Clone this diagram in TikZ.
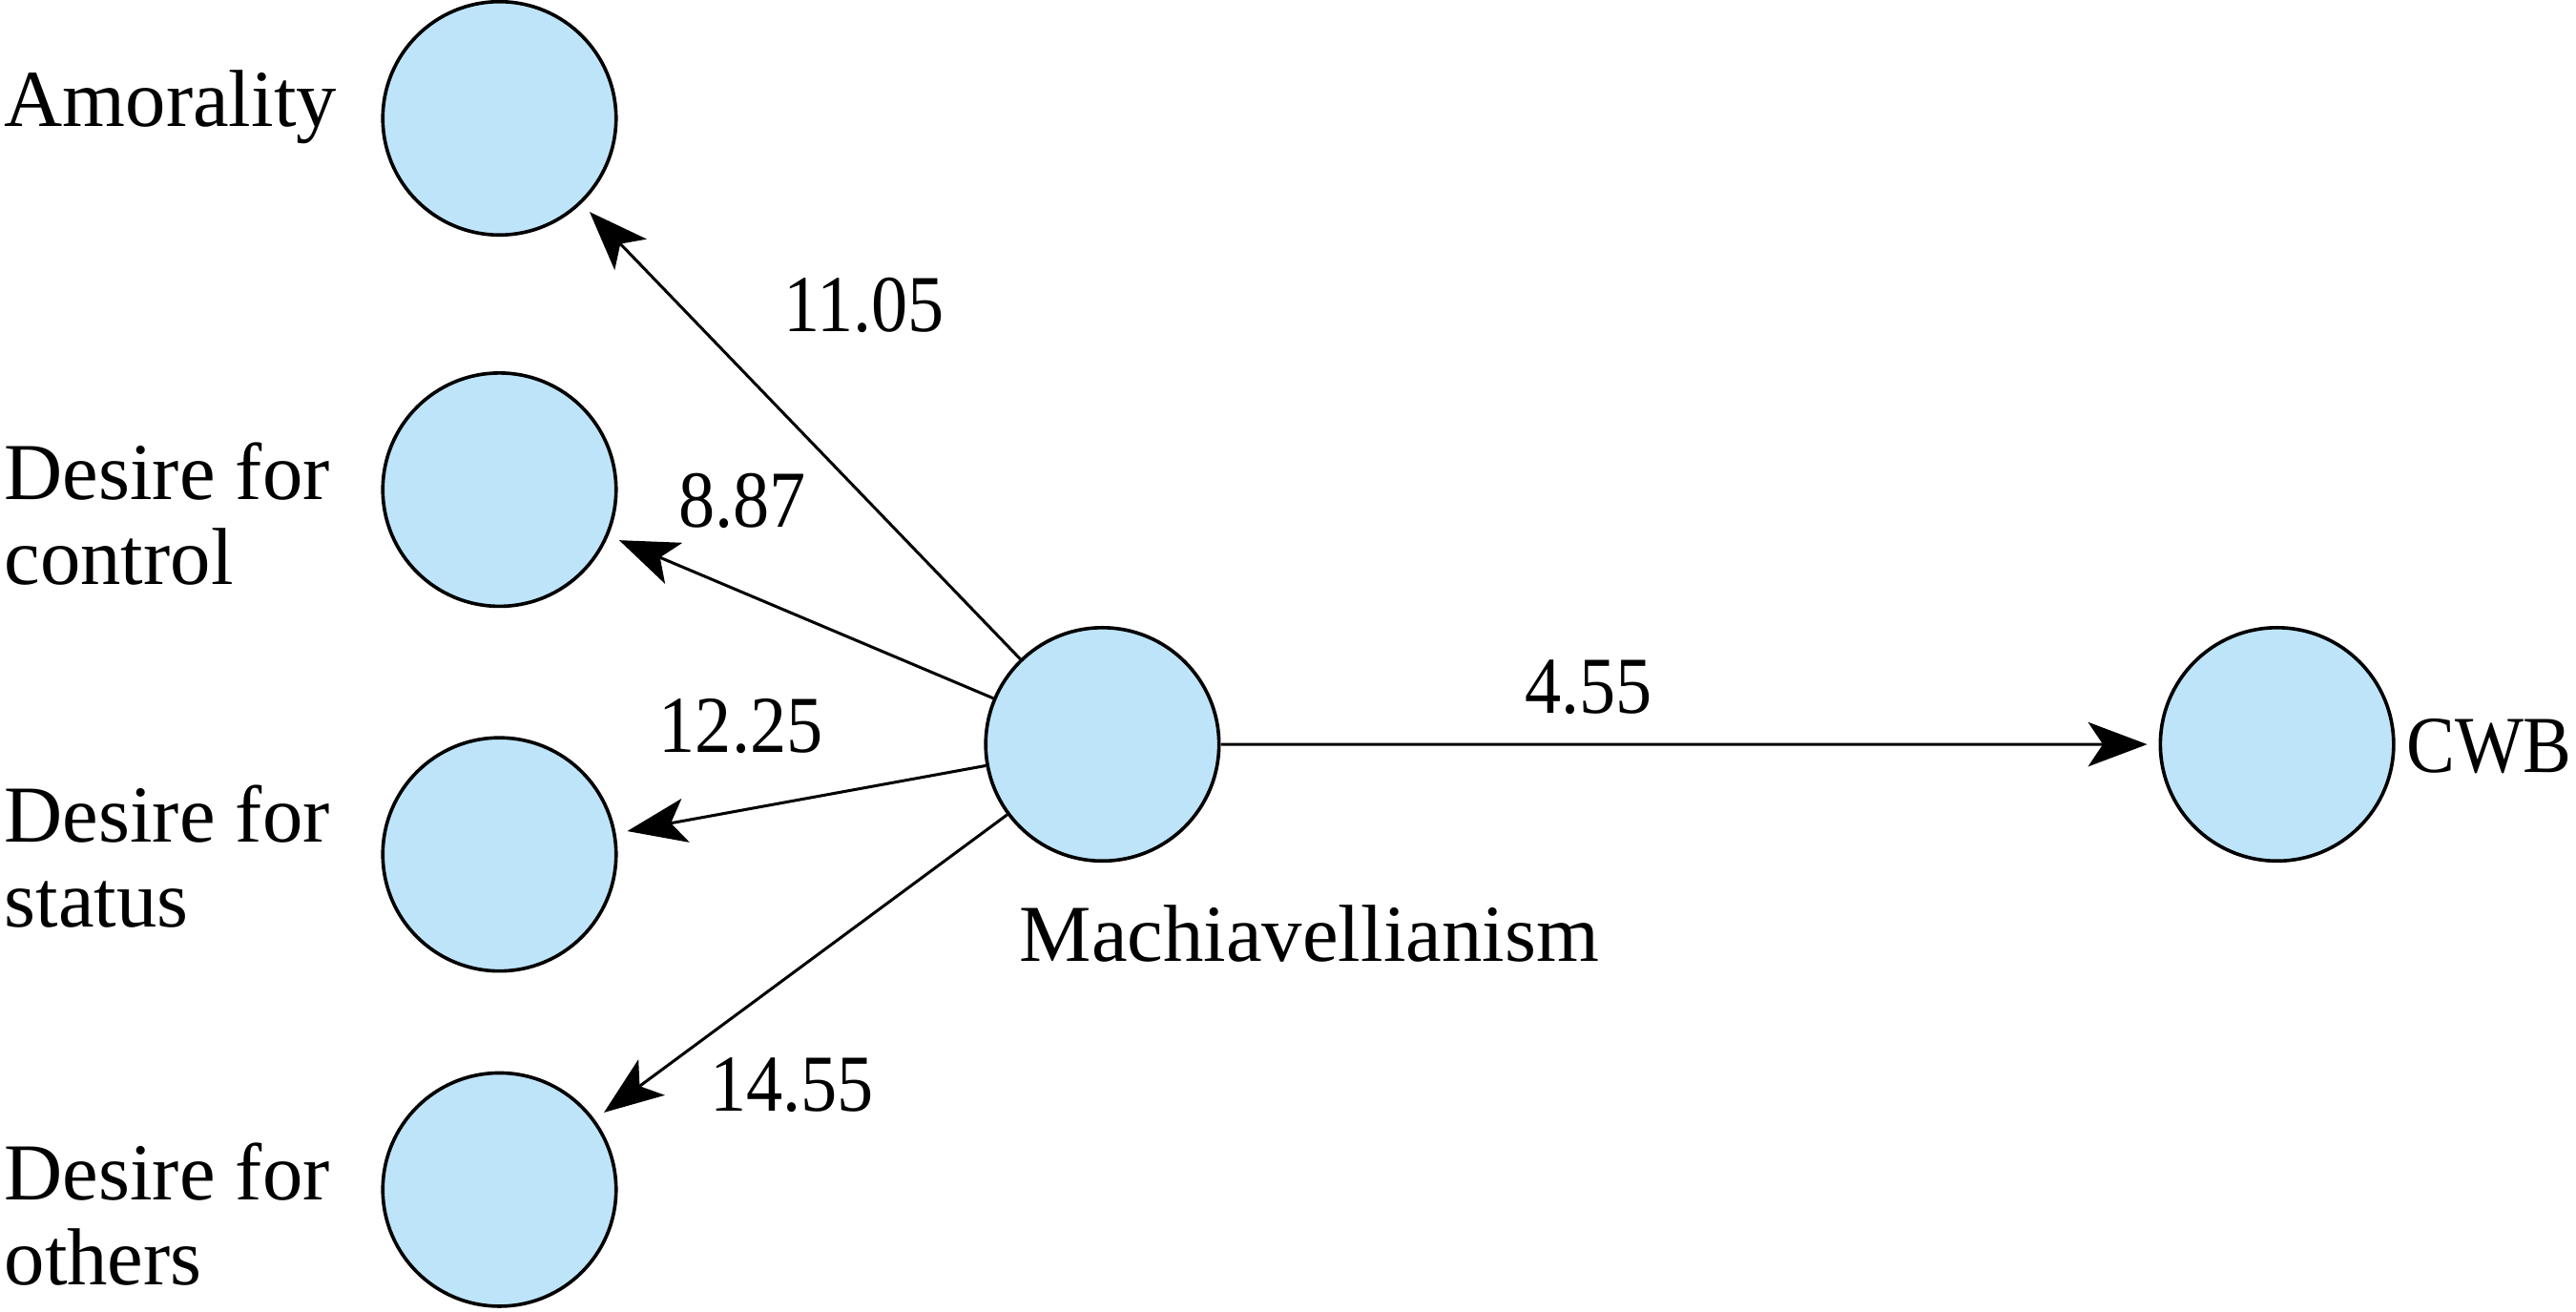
\documentclass[tikz,border=0pt]{standalone}
\usepackage{fontspec}
\setmainfont{Liberation Serif}
\newfontfamily\narrowfont[FakeStretch=0.9]{Liberation Serif}
\usepackage{xcolor}
\usepackage{tikz}
\usetikzlibrary{arrows.meta}
\definecolor{latentblue}{RGB}{190,228,249}

\begin{document}
\begin{tikzpicture}[scale=0.1]
\tikzstyle{every node}+=[inner sep=0pt, font=\fontsize{14}{14.7}\selectfont]
\tikzstyle{latent}=[circle, draw=black, line width=0.6pt, fill=latentblue, minimum size=1.42cm]
\tikzstyle{load}=[black, line width=0.5pt, -{Stealth[length=0.36cm,width=0.27cm,inset=0.09cm]}, shorten >=2pt]
\tikzstyle{weight}=[anchor=base, font=\fontsize{14}{14.7}\narrowfont]
\useasboundingbox (0,0) rectangle (156.8,-79.8);
\node [latent] (amor) at (30.4,-7.2) {};
\node [latent] (ctrl) at (30.4,-29.8) {};
\node [latent] (stat) at (30.4,-52.0) {};
\node [latent] (othr) at (30.4,-72.4) {};
\node [latent] (mach) at (67.1,-45.3) {};
\node [latent] (cwb) at (138.6,-45.3) {};
\node [anchor=base west] (tamor) at (0.2,-7.7) {Amorality};
\node [anchor=west, align=left] (tctrl) at (0.2,-31.3) {Desire for\\control};
\node [anchor=west, align=left] (tstat) at (0.2,-52.1) {Desire for\\status};
\node [anchor=west, align=left] (tothr) at (0.2,-73.9) {Desire for\\others};
\node [anchor=base] (tmach) at (79.7,-58.5) {Machiavellianism};
\node [anchor=base west, font=\fontsize{14}{14.7}\narrowfont] (tcwb) at (146.4,-47.0) {CWB};
\draw [load] (mach) -- (amor);
\node [weight] (wamor) at (52.6,-20.2) {11.05};
\draw [load] (mach) -- (ctrl);
\node [weight] (wctrl) at (45.2,-32.1) {8.87};
\draw [load] (mach) -- (stat);
\node [weight] (wstat) at (45.1,-45.8) {12.25};
\draw [load] (mach) -- (othr);
\node [weight] (wothr) at (48.2,-67.6) {14.55};
\draw [load] (mach) -- (cwb);
\node [weight] (wcwb) at (96.7,-43.4) {4.55};
\end{tikzpicture}
\end{document}
